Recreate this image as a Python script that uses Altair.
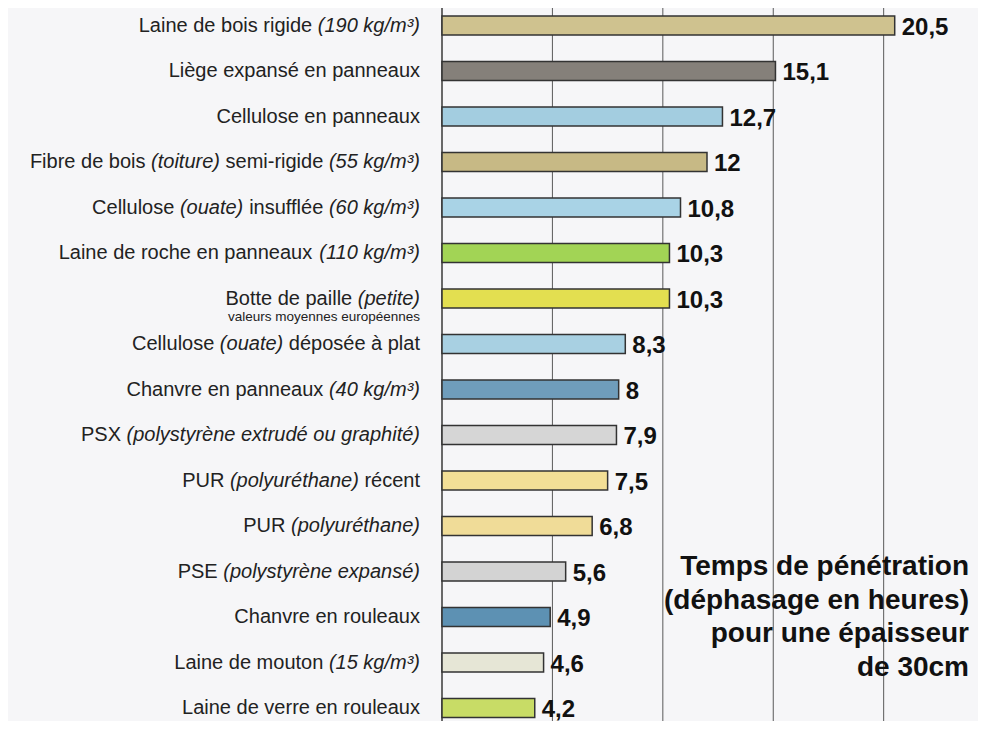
import altair as alt
import pandas as pd

# ---------------- data ----------------
LABEL_PARTS = [
    [("Laine de bois rigide", 0), ("(190 kg/m³)", 1)],
    [("Liège expansé en panneaux", 0)],
    [("Cellulose en panneaux", 0)],
    [("Fibre de bois", 0), ("(toiture)", 1), ("semi-rigide", 0), ("(55 kg/m³)", 1)],
    [("Cellulose", 0), ("(ouate)", 1), ("insufflée", 0), ("(60 kg/m³)", 1)],
    [("Laine de roche en panneaux", 0), ("(110 kg/m³)", 1)],
    [("Botte de paille", 0), ("(petite)", 1)],
    [("Cellulose", 0), ("(ouate)", 1), ("déposée à plat", 0)],
    [("Chanvre en panneaux", 0), ("(40 kg/m³)", 1)],
    [("PSX", 0), ("(polystyrène extrudé ou graphité)", 1)],
    [("PUR", 0), ("(polyuréthane)", 1), ("récent", 0)],
    [("PUR", 0), ("(polyuréthane)", 1)],
    [("PSE", 0), ("(polystyrène expansé)", 1)],
    [("Chanvre en rouleaux", 0)],
    [("Laine de mouton", 0), ("(15 kg/m³)", 1)],
    [("Laine de verre en rouleaux", 0)],
]
CATEGORIES = [" ".join(t for t, _ in parts) for parts in LABEL_PARTS]
VALUES = [20.5, 15.1, 12.7, 12, 10.8, 10.3, 10.3, 8.3, 8, 7.9, 7.5, 6.8, 5.6, 4.9, 4.6, 4.2]
COLORS = ["#cfc28f", "#85807a", "#a3cde0", "#c7b985", "#a9d3e6", "#a2d455",
          "#e3df50", "#a8d0e2", "#6f9dbb", "#d6d6d6", "#f3df96", "#f0dc98",
          "#d3d3d3", "#5d91b3", "#e6e6d6", "#c8dc66"]
SUBLABEL_CAT = "Botte de paille (petite)"
SUBLABEL = "valeurs moyennes européennes"
X_GRID = [5, 10, 15, 20]
NOTE = ["Temps de pénétration", "(déphasage en heures)", "pour une épaisseur", "de 30cm"]

# ---------------- layout helpers ----------------
PLOT_W = 530
PLOT_H = 713
X_MAX = 24
PX = PLOT_W / X_MAX
FONT = "Liberation Sans"
LABEL_SIZE = 20
LABEL_RIGHT = -22  # px from the axis

# Arial / Liberation Sans advance widths (1/1000 em)
_w = {}
for c in "abdeghnopqu0123456789": _w[c] = 556
for c in "cksvxyz": _w[c] = 500
for c in "fjt/ ,.": _w[c] = 278
for c in "il": _w[c] = 222
_w["j"] = 222
_w["m"] = 833; _w["w"] = 722; _w["r"] = 333
for c in "()-³": _w[c] = 333
caps = dict(A=667, B=667, C=722, D=722, E=667, F=611, G=778, H=722, I=278, J=500,
            K=667, L=556, M=833, N=722, O=778, P=667, Q=778, R=722, S=667, T=611,
            U=722, V=667, W=944, X=667, Y=667, Z=611)
_w.update(caps)
ACC = {"é": "e", "è": "e", "ê": "e", "à": "a", "â": "a", "ç": "c", "î": "i", "ô": "o", "û": "u"}


def text_w(s, size):
    return sum(_w.get(ACC.get(ch, ch), 556) for ch in s) * size / 1000.0


rows = []
for cat, parts in zip(CATEGORIES, LABEL_PARTS):
    right = LABEL_RIGHT
    for text, ital in reversed(parts):
        rows.append({"cat": cat, "text": text, "italic": ital, "x": right / PX})
        right -= text_w(text, LABEL_SIZE) + text_w(" ", LABEL_SIZE)
labels_df = pd.DataFrame(rows)

bars_df = pd.DataFrame({
    "cat": CATEGORIES,
    "value": VALUES,
    "color": COLORS,
    "vtxt": [f"{v:g}".replace(".", ",") for v in VALUES],
})
sub_df = pd.DataFrame({"cat": [SUBLABEL_CAT], "text": [SUBLABEL], "x": [LABEL_RIGHT / PX]})
grid_df = pd.DataFrame({"g": X_GRID})
axis_df = pd.DataFrame({"g": [0]})

yscale = alt.Scale(paddingInner=0.5824, paddingOuter=0.126, align=0.7)
Y = alt.Y("cat:N", sort=CATEGORIES, scale=yscale, axis=None)
xscale = alt.Scale(domain=[0, X_MAX], nice=False, zero=False)
X_ = lambda f: alt.X(f, scale=xscale, axis=None)

grid = alt.Chart(grid_df).mark_rule(color="#5a5a5a", strokeWidth=1).encode(x=X_("g:Q"))
axis_line = alt.Chart(axis_df).mark_rule(color="#3a3a3a", strokeWidth=1.5).encode(x=X_("g:Q"))

bars = alt.Chart(bars_df).mark_bar(stroke="#333333", strokeWidth=1.5).encode(
    x=X_("value:Q"),
    y=Y,
    color=alt.Color("color:N", scale=None),
)

vals = alt.Chart(bars_df).mark_text(
    align="left", baseline="middle", dx=7, dy=2, font=FONT, fontSize=24,
    fontWeight="bold", color="#111111"
).encode(x=X_("value:Q"), y=Y, text="vtxt:N")

lab_reg = alt.Chart(labels_df).transform_filter("datum.italic == 0").mark_text(
    align="right", baseline="middle", font=FONT, fontSize=LABEL_SIZE, color="#222222"
).encode(x=X_("x:Q"), y=Y, text="text:N")

lab_it = alt.Chart(labels_df).transform_filter("datum.italic == 1").mark_text(
    align="right", baseline="middle", font=FONT, fontSize=LABEL_SIZE,
    fontStyle="italic", color="#222222"
).encode(x=X_("x:Q"), y=Y, text="text:N")

sub = alt.Chart(sub_df).mark_text(
    align="right", baseline="middle", dy=18, font=FONT, fontSize=13.5, color="#222222"
).encode(x=X_("x:Q"), y=Y, text="text:N")

note = alt.Chart(pd.DataFrame({"k": [0]})).mark_text(
    text=NOTE, align="right", baseline="middle", font=FONT, fontSize=28,
    fontWeight="bold", lineHeight=33.5, color="#111111"
).encode(x=alt.value(527), y=alt.value(559))

chart = alt.layer(grid, axis_line, bars, vals, lab_reg, lab_it, sub, note).properties(
    width=PLOT_W, height=PLOT_H, background="#f6f6f8",
    autosize=alt.AutoSizeParams(type="none"),
    padding={"left": 434, "top": 0, "right": 6, "bottom": 0},
).configure_view(strokeWidth=0)

chart.save("out.html", embed_options={"renderer": "svg", "actions": False})
